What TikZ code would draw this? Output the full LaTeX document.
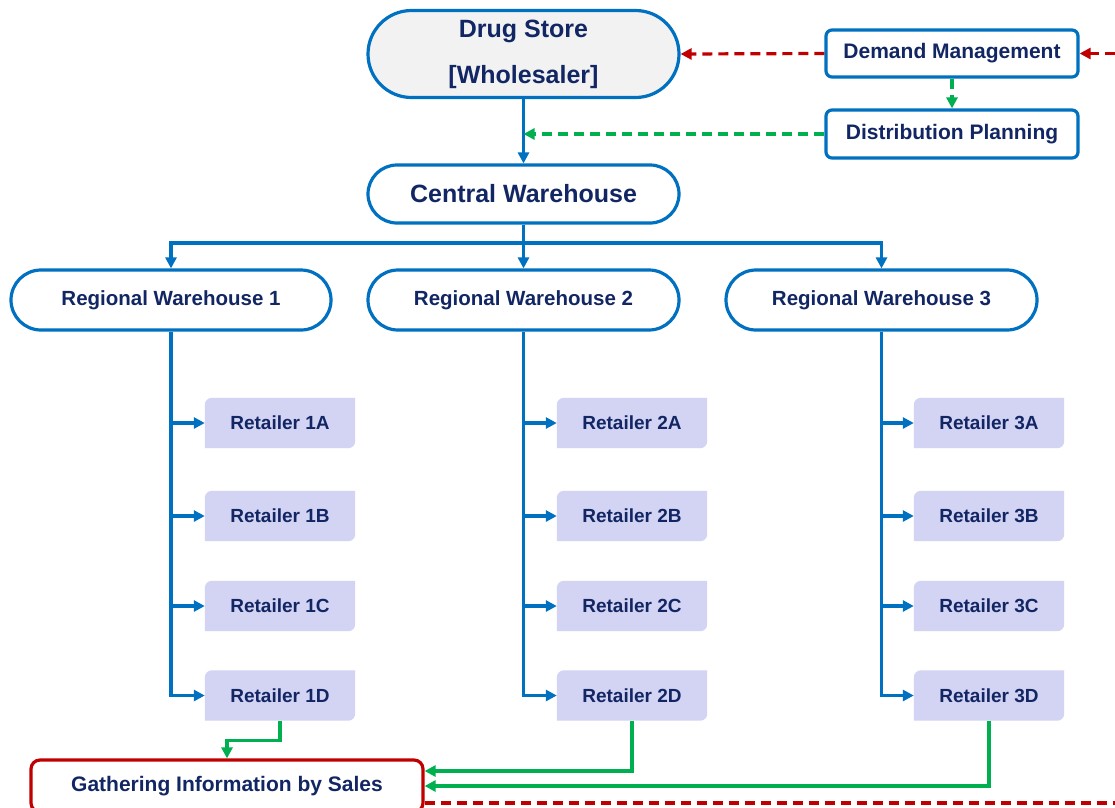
\documentclass[tikz,border=0pt]{standalone}
\usepackage{fontspec}
\setmainfont{Liberation Sans}
\usetikzlibrary{arrows.meta,shapes.misc,backgrounds}
\definecolor{bl}{RGB}{0,112,192}
\definecolor{rd}{RGB}{192,0,0}
\definecolor{gr}{RGB}{0,176,80}
\definecolor{navy}{RGB}{18,38,100}
\definecolor{retfill}{RGB}{211,211,243}
\definecolor{dsfill}{RGB}{242,242,242}
\begin{document}
\begin{tikzpicture}[x=1pt,y=-1pt,
  tip/.style={-{Triangle[length=11pt,width=11pt]}},
  bline/.style={draw=bl,line width=3.2pt},
  gline/.style={draw=gr,line width=3.2pt},
  gdash/.style={draw=gr,line width=3.2pt,dash pattern=on 10pt off 6pt},
  rdash/.style={draw=rd,line width=3.2pt,dash pattern=on 10pt off 6pt},
  stad/.style={rounded rectangle,draw=bl,line width=3.2pt,fill=white,text=navy,inner sep=0pt,minimum height=60pt},
  mgmt/.style={rectangle,rounded corners=6pt,draw=bl,line width=3.2pt,fill=white,text=navy,minimum width=252pt,minimum height=47pt,inner sep=0pt,font=\fontsize{21}{25}\selectfont\bfseries},
  ret/.style={rectangle,minimum width=150pt,minimum height=50pt,inner sep=0pt,text=navy,font=\fontsize{19}{23}\selectfont\bfseries},
  rwfont/.style={font=\fontsize{20.5}{25}\selectfont\bfseries}
]
\useasboundingbox (0,0) rectangle (1115,807);

% top nodes
\node[stad,fill=dsfill,minimum width=311pt,minimum height=87pt,align=center,font=\fontsize{25}{46}\selectfont\bfseries] (DS) at (523.5,54) {Drug Store\\{[Wholesaler]}};
\node[stad,minimum width=311pt,minimum height=58pt,font=\fontsize{25}{30}\selectfont\bfseries] (CW) at (523.5,194) {Central Warehouse};
\node[mgmt] (DM) at (952,53.5) {Demand Management};
\node[mgmt,minimum height=48pt] (DP) at (952,134) {Distribution Planning};

% regional warehouses
\node[stad,rwfont,minimum width=320pt] (RW1) at (171,300) {Regional Warehouse 1};
\node[stad,rwfont,minimum width=311pt] (RW2) at (523.5,300) {Regional Warehouse 2};
\node[stad,rwfont,minimum width=311pt] (RW3) at (881.5,300) {Regional Warehouse 3};

% retailers
\foreach \i/\x in {1/280,2/632,3/989}{
  \foreach \l/\y in {A/423,B/516,C/606,D/695.5}{
    \node[ret] (R\i\l) at (\x,\y) {Retailer \i\l};
  }
}
\begin{scope}[on background layer]
\foreach \i in {1,2,3}{
  \foreach \l in {A,B,C,D}{
    \fill[retfill] (R\i\l.south west) -- ([yshift=-7pt]R\i\l.north west) arc[start angle=180,end angle=90,radius=7pt] -- (R\i\l.north east) -- ([yshift=7pt]R\i\l.south east) arc[start angle=0,end angle=-90,radius=7pt] -- cycle;
  }
}
\end{scope}

% gathering
\node[rectangle,rounded corners=9pt,draw=rd,line width=3.2pt,fill=white,text=navy,minimum width=392pt,minimum height=52pt,inner sep=0pt,font=\fontsize{21}{25}\selectfont\bfseries] (G) at (227,786) {Gathering Information by Sales};

% coordinates
\coordinate (bus) at (523.5,243);
\coordinate (rin) at (1115,53.5);
\coordinate (rout) at (1115,803);

% blue flow
\draw[bline,tip] (DS.south) -- (CW.north);
\draw[bline] (CW.south) -- (bus);
\draw[bline,tip] (bus) -- (RW2.north);
\draw[bline,tip] (bus) -| (RW1.north);
\draw[bline,tip] (bus) -| (RW3.north);
\foreach \i in {1,2,3}{
  \draw[bline,tip] (RW\i.south) |- (R\i D.west);
  \foreach \l in {A,B,C}{
    \draw[bline,tip] (RW\i.south |- R\i\l.west) -- (R\i\l.west);
  }
}

% dashed info flows
\draw[rdash,tip] (DM.west) -- (DS.east);
\draw[rdash,tip] (rin) -- (DM.east);
\draw[gdash,tip] (DM.south) -- (DP.north);
\draw[gdash,tip] (DP.west) -- (DS.south |- DP.west);

% green feedback
\draw[gline,tip] (R1D.south) -- ++(0,20) -| (G.north);
\draw[gline,tip] (R2D.south) |- ([yshift=15pt]G.east);
\draw[gline,tip] (R3D.south) |- (G.east);
\draw[rdash] ([yshift=-17pt]G.east) -- (rout);
\end{tikzpicture}
\end{document}
